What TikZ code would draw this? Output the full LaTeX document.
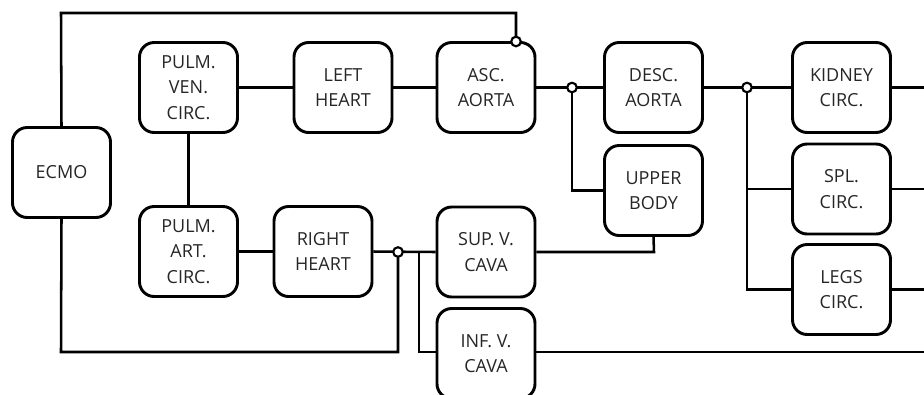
\documentclass[tikz,border=0pt]{standalone}
\usepackage{fontspec}
\setmainfont{Open Sans}
\begin{document}
\begin{tikzpicture}[x=0.75pt,y=-0.75pt,
  box/.style={draw=black,line width=2.2pt,rounded corners=11pt,minimum width=73.5pt,minimum height=67.5pt,inner sep=0pt,align=center,text=black!85,font=\fontsize{13.5}{19}\selectfont},
  wire/.style={line width=1.9pt,draw=black},
  junc/.style={circle,draw=black,fill=white,line width=1.6pt,inner sep=0pt,minimum size=7.2pt}]
\useasboundingbox (0,0) rectangle (924,394);
% nodes
\node[box] (ecmo) at (61.5,172.5) {ECMO};
\node[box] (pvc) at (188.5,87.5) {PULM.\\VEN.\\CIRC.};
\node[box] (lh) at (343,87.5) {LEFT\\HEART};
\node[box] (asc) at (486,87.5) {ASC.\\AORTA};
\node[box] (desc) at (653.5,87.5) {DESC.\\AORTA};
\node[box] (kid) at (841.5,87.5) {KIDNEY\\CIRC.};
\node[box] (ub) at (653.5,190.5) {UPPER\\BODY};
\node[box] (spl) at (841.5,189) {SPL.\\CIRC.};
\node[box] (legs) at (841.5,289.5) {LEGS\\CIRC.};
\node[box] (pac) at (188.5,251.5) {PULM.\\ART.\\CIRC.};
\node[box] (rh) at (323,251.5) {RIGHT\\HEART};
\node[box] (svc) at (486,252) {SUP. V.\\CAVA};
\node[box] (ivc) at (486,353.5) {INF. V.\\CAVA};
% free-end coordinates
\coordinate (t1) at (61,13);
\coordinate (t2) at (516,13);
\coordinate (ub1) at (572,190.5);
\coordinate (sp1) at (747,189);
\coordinate (lg1) at (747,289.5);
\coordinate (kr) at (924,87.5);
\coordinate (sr) at (924,189);
\coordinate (lr) at (924,289.5);
\coordinate (b1) at (398,352);
\coordinate (b2) at (61,352);
\coordinate (v1) at (419,252);
\coordinate (v2) at (419,352);
\coordinate (ir) at (924,352);
\coordinate (s1) at (654,252);
% wires
\draw[wire] (pvc) -- (lh);
\draw[wire] (lh) -- (asc);
\draw[wire] (asc) -- (desc);
\draw[wire] (desc) -- (kid);
\draw[wire] (kid) -- (kr);
\draw[wire] (572,87.5) |- (ub1) -- (ub);
\draw[wire] (747,87.5) |- (lg1) -- (legs);
\draw[wire] (sp1) -- (spl);
\draw[wire] (spl) -- (sr);
\draw[wire] (legs) -- (lr);
\draw[wire] (pvc) -- (pac);
\draw[wire] (pac) -- (rh);
\draw[wire] (rh.east) -- (svc.west);
\draw[wire] (398,252) -- (b1) -- (b2) -- (ecmo.south);
\draw[wire] (v1) -- (v2) -- (ivc.west |- v2);
\draw[wire] (ivc.east |- ir) -- (ir);
\draw[wire] (svc.east) -- (s1) -- (ub.south);
\draw[wire] (ecmo.north) -- (t1) -- (t2) -- (516,41.5);
% junctions
\node[junc] (j1) at (516,41.5) {};
\node[junc] (j2) at (572,87.5) {};
\node[junc] (j3) at (747,87.5) {};
\node[junc] (j4) at (398,252) {};
\end{tikzpicture}
\end{document}
